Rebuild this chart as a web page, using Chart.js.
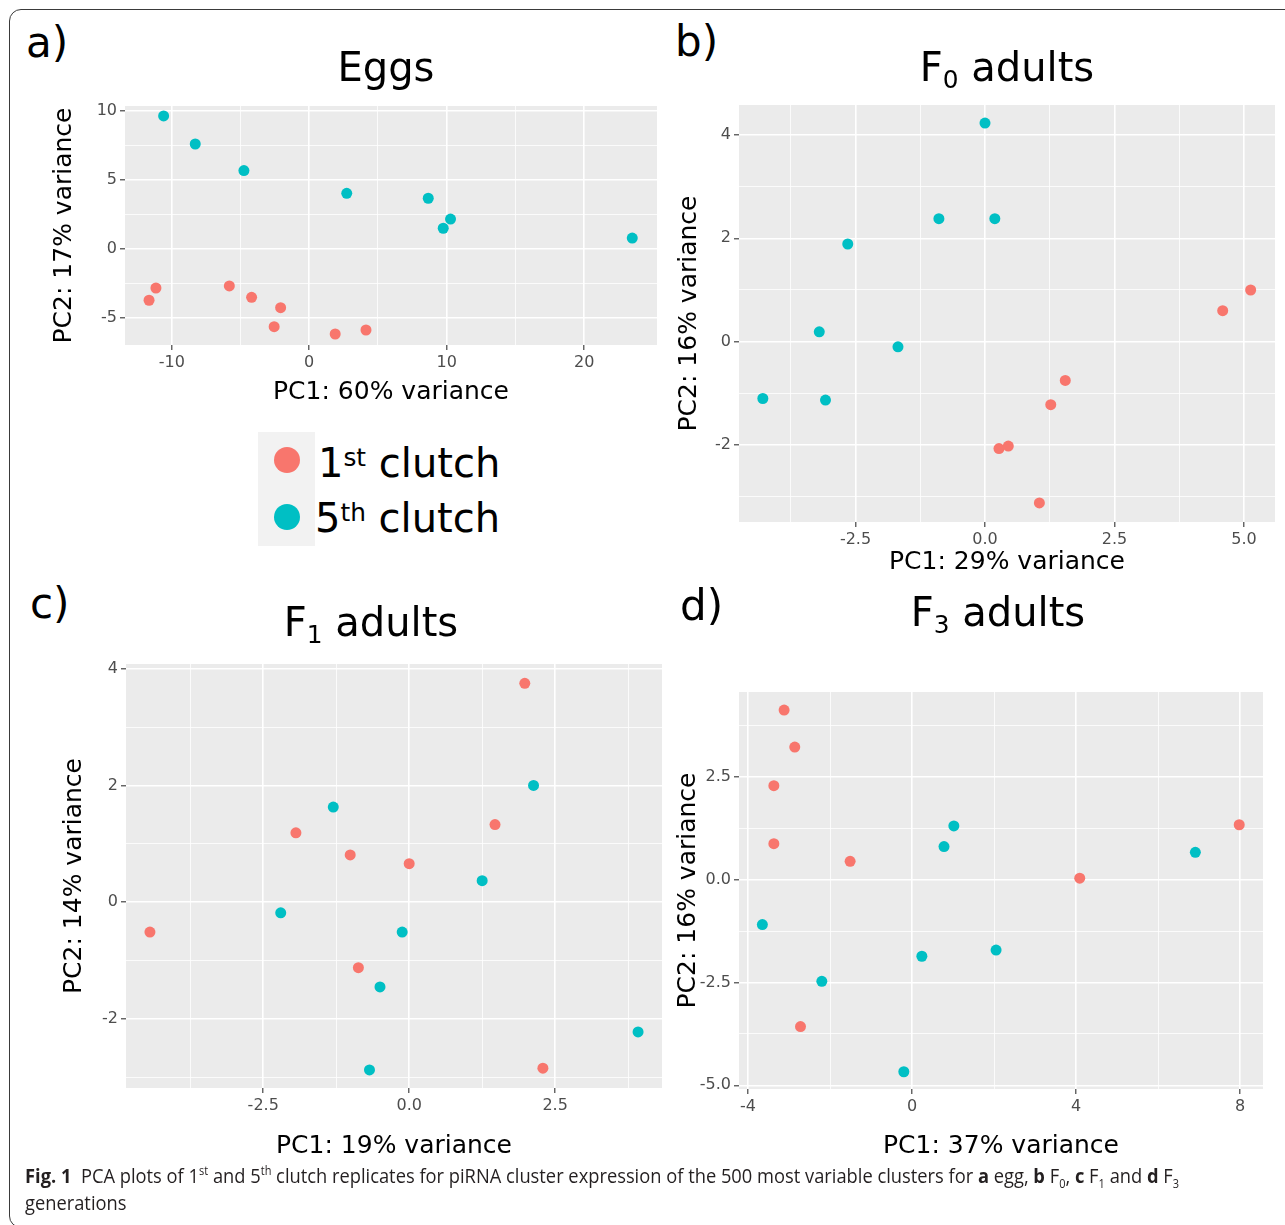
<!DOCTYPE html>
<html>
<head>
<meta charset="utf-8">
<script src="https://cdn.jsdelivr.net/npm/chart.js@4.4.1/dist/chart.umd.min.js"></script>
<style>
  html, body { margin: 0; padding: 0; background: #fff; }
  #page { position: relative; width: 1285px; height: 1225px; overflow: hidden; font-family: "DejaVu Sans", sans-serif; }
  #frame { position: absolute; left: 9px; top: 9px; width: 1300px; height: 1217px; border: 1px solid #3a3a3a; border-radius: 12px; }
  canvas { position: absolute; }
  .tag { position: absolute; font-size: 42px; line-height: 42px; color: #000; }
  .ptitle { position: absolute; font-size: 40px; line-height: 40px; color: #000; transform: translateX(-50%); white-space: nowrap; }
  .ptitle sub { font-size: 0.62em; vertical-align: baseline; position: relative; top: 0.3em; }
  #legendBox { position: absolute; left: 258px; top: 432px; width: 57px; height: 114px; background: #F2F2F2; }
  .key { position: absolute; width: 26px; height: 26px; border-radius: 50%; }
  .ltext { position: absolute; font-size: 40px; line-height: 40px; color: #000; white-space: nowrap; }
  .ltext sup { font-size: 0.62em; vertical-align: baseline; position: relative; top: -0.45em; }
  #caption { position: absolute; left: 25px; top: 1162px; font-family: "Open Sans", sans-serif; font-size: 20px; line-height: 27px; color: #231F20; white-space: nowrap; transform: scaleX(0.915); transform-origin: 0 0; }
  #caption sup, #caption sub { font-size: 0.6em; line-height: 0; }
</style>
</head>
<body>
<div id="page">
  <div id="frame"></div>

  <canvas id="chartEggs"></canvas>
  <canvas id="chartF0"></canvas>
  <canvas id="chartF1"></canvas>
  <canvas id="chartF3"></canvas>

  <div class="tag" style="left:26px; top:22px;">a)</div>
  <div class="tag" style="left:675px; top:21px;">b)</div>
  <div class="tag" style="left:30px; top:583px;">c)</div>
  <div class="tag" style="left:680px; top:585px;">d)</div>

  <div class="ptitle" style="left:386px; top:47px;">Eggs</div>
  <div class="ptitle" style="left:1007px; top:47px;">F<sub>0</sub> adults</div>
  <div class="ptitle" style="left:371px; top:602px;">F<sub>1</sub> adults</div>
  <div class="ptitle" style="left:998px; top:592px;">F<sub>3</sub> adults</div>

  <div id="legendBox"></div>
  <div class="key" style="left:274px; top:447px; background:#F8766D;"></div>
  <div class="key" style="left:274px; top:504px; background:#00BFC4;"></div>
  <div class="ltext" style="left:318px; top:443px;">1<sup>st</sup> clutch</div>
  <div class="ltext" style="left:315px; top:498px;">5<sup>th</sup> clutch</div>

  <div id="caption"><b>Fig. 1</b>&nbsp; PCA plots of 1<sup>st</sup> and 5<sup>th</sup> clutch replicates for piRNA cluster expression of the 500 most variable clusters for <b>a</b> egg, <b>b</b> F<sub>0</sub>, <b>c</b> F<sub>1</sub> and <b>d</b> F<sub>3</sub><br>generations</div>
</div>

<script>
// --- data ---
const eggs1X = [-11.65, -11.15, -5.81, -4.19, -2.08, -2.55, 1.89, 4.13];
const eggs1Y = [-3.75, -2.86, -2.71, -3.54, -4.29, -5.67, -6.20, -5.91];
const eggs5X = [-10.59, -8.29, -4.75, 2.73, 8.66, 10.28, 9.75, 23.5];
const eggs5Y = [9.64, 7.60, 5.67, 4.02, 3.66, 2.15, 1.48, 0.77];

const f0c1X = [5.13, 4.59, 1.55, 1.27, 0.27, 0.45, 1.05];
const f0c1Y = [1.00, 0.60, -0.75, -1.22, -2.07, -2.02, -3.12];
const f0c5X = [0.0, -0.89, 0.19, -2.65, -3.20, -1.68, -4.29, -3.08];
const f0c5Y = [4.23, 2.38, 2.38, 1.89, 0.19, -0.10, -1.10, -1.13];

const f1c1X = [1.98, 1.47, -1.94, -1.01, 0.0, -4.44, -0.87, 2.29];
const f1c1Y = [3.75, 1.33, 1.19, 0.81, 0.66, -0.51, -1.12, -2.84];
const f1c5X = [2.13, -1.30, 1.25, -2.20, -0.12, -0.50, -0.68, 3.92];
const f1c5Y = [2.00, 1.63, 0.37, -0.18, -0.51, -1.45, -2.87, -2.22];

const f3c1X = [-3.12, -2.86, -3.37, -3.37, -1.51, -2.72, 4.09, 7.98];
const f3c1Y = [4.13, 3.23, 2.29, 0.88, 0.45, -3.57, 0.04, 1.34];
const f3c5X = [1.02, 0.78, 6.91, -3.65, 2.05, 0.24, -2.20, -0.20];
const f3c5Y = [1.31, 0.81, 0.67, -1.09, -1.71, -1.86, -2.47, -4.67];

// --- ticks ---
const eggsXTicks = [-10, 0, 10, 20];
const eggsXLabels = ['-10', '0', '10', '20'];
const eggsXMinor = [-5, 5, 15];
const eggsYTicks = [-5, 0, 5, 10];
const eggsYLabels = ['-5', '0', '5', '10'];
const eggsYMinor = [-2.5, 2.5, 7.5];

const f0XTicks = [-2.5, 0, 2.5, 5];
const f0XLabels = ['-2.5', '0.0', '2.5', '5.0'];
const f0XMinor = [-3.75, -1.25, 1.25, 3.75];
const f0YTicks = [-2, 0, 2, 4];
const f0YLabels = ['-2', '0', '2', '4'];
const f0YMinor = [-3, -1, 1, 3];

const f1XTicks = [-2.5, 0, 2.5];
const f1XLabels = ['-2.5', '0.0', '2.5'];
const f1XMinor = [-3.75, -1.25, 1.25, 3.75];
const f1YTicks = [-2, 0, 2, 4];
const f1YLabels = ['-2', '0', '2', '4'];
const f1YMinor = [-3, -1, 1, 3];

const f3XTicks = [-4, 0, 4, 8];
const f3XLabels = ['-4', '0', '4', '8'];
const f3XMinor = [-2, 2, 6];
const f3YTicks = [-5, -2.5, 0, 2.5];
const f3YLabels = ['-5.0', '-2.5', '0.0', '2.5'];
const f3YMinor = [-3.75, -1.25, 1.25, 3.75];

const RED = '#F8766D';
const CYAN = '#00BFC4';
const FONT = '"DejaVu Sans", sans-serif';

const panelBg = {
  id: 'panelBg',
  beforeDraw(chart) {
    const { ctx, chartArea: a } = chart;
    ctx.save();
    ctx.fillStyle = '#EBEBEB';
    ctx.fillRect(a.left, a.top, a.right - a.left, a.bottom - a.top);
    ctx.restore();
  }
};

function zip(xs, ys) {
  return xs.map((x, i) => ({ x, y: ys[i] }));
}

function axis(o) {
  const all = o.major.concat(o.minor).filter(v => v >= o.min && v <= o.max).sort((a, b) => a - b);
  return {
    type: 'linear',
    min: o.min,
    max: o.max,
    afterBuildTicks: s => { s.ticks = all.map(v => ({ value: v })); },
    afterFit: s => { if (o.vertical) s.width = o.size; else s.height = o.size; },
    ticks: {
      autoSkip: false,
      maxRotation: 0,
      padding: 3,
      color: '#4D4D4D',
      font: { family: FONT, size: 16 },
      callback: v => { const i = o.major.indexOf(v); return i < 0 ? '' : o.labels[i]; },
    },
    grid: {
      color: '#FFFFFF',
      lineWidth: c => (c.tick && o.major.includes(c.tick.value)) ? 1.6 : 0.8,
      tickLength: 5,
      tickWidth: 1.1,
      tickColor: c => (c.tick && o.major.includes(c.tick.value)) ? '#333333' : 'rgba(0,0,0,0)',
    },
    border: { display: false },
    title: {
      display: true,
      text: o.title,
      color: '#000000',
      font: { family: FONT, size: 25 },
      padding: o.vertical ? { top: o.titlePad, bottom: 0 } : { top: 0, bottom: o.titlePad },
    },
  };
}

function makePanel(id, box, sets, xAxis, yAxis) {
  const canvas = document.getElementById(id);
  canvas.width = box.w;
  canvas.height = box.h;
  canvas.style.left = box.x + 'px';
  canvas.style.top = box.y + 'px';
  return new Chart(canvas, {
    type: 'scatter',
    data: {
      datasets: sets.map(s => ({
        data: zip(s.x, s.y),
        backgroundColor: s.color,
        borderWidth: 0,
        pointRadius: 5.5,
        pointHoverRadius: 5.5,
      })),
    },
    options: {
      responsive: false,
      animation: false,
      devicePixelRatio: 1,
      layout: { padding: { top: 20, right: 10, left: 0, bottom: 0 } },
      plugins: { legend: { display: false }, tooltip: { enabled: false } },
      scales: { x: axis(xAxis), y: axis(yAxis) },
    },
    plugins: [panelBg],
  });
}

makePanel('chartEggs', { x: 40, y: 86, w: 627, h: 334 },
  [{ x: eggs1X, y: eggs1Y, color: RED }, { x: eggs5X, y: eggs5Y, color: CYAN }],
  { min: -13.4, max: 25.3, major: eggsXTicks, labels: eggsXLabels, minor: eggsXMinor, title: 'PC1: 60% variance', size: 75, titlePad: 13 },
  { min: -7.0, max: 10.36, major: eggsYTicks, labels: eggsYLabels, minor: eggsYMinor, title: 'PC2: 17% variance', size: 85, titlePad: 9, vertical: true });

makePanel('chartF0', { x: 664, y: 85, w: 621, h: 505 },
  [{ x: f0c1X, y: f0c1Y, color: RED }, { x: f0c5X, y: f0c5Y, color: CYAN }],
  { min: -4.75, max: 5.60, major: f0XTicks, labels: f0XLabels, minor: f0XMinor, title: 'PC1: 29% variance', size: 68, titlePad: 13 },
  { min: -3.49, max: 4.58, major: f0YTicks, labels: f0YLabels, minor: f0YMinor, title: 'PC2: 16% variance', size: 75, titlePad: 10, vertical: true });

makePanel('chartF1', { x: 40, y: 644, w: 632, h: 526 },
  [{ x: f1c1X, y: f1c1Y, color: RED }, { x: f1c5X, y: f1c5Y, color: CYAN }],
  { min: -4.85, max: 4.33, major: f1XTicks, labels: f1XLabels, minor: f1XMinor, title: 'PC1: 19% variance', size: 82, titlePad: 9 },
  { min: -3.18, max: 4.08, major: f1YTicks, labels: f1YLabels, minor: f1YMinor, title: 'PC2: 14% variance', size: 86, titlePad: 19, vertical: true });

makePanel('chartF3', { x: 664, y: 672, w: 609, h: 498 },
  [{ x: f3c1X, y: f3c1Y, color: RED }, { x: f3c5X, y: f3c5Y, color: CYAN }],
  { min: -4.22, max: 8.56, major: f3XTicks, labels: f3XLabels, minor: f3XMinor, title: 'PC1: 37% variance', size: 81, titlePad: 9 },
  { min: -5.09, max: 4.57, major: f3YTicks, labels: f3YLabels, minor: f3YMinor, title: 'PC2: 16% variance', size: 75, titlePad: 9, vertical: true });
</script>
</body>
</html>
